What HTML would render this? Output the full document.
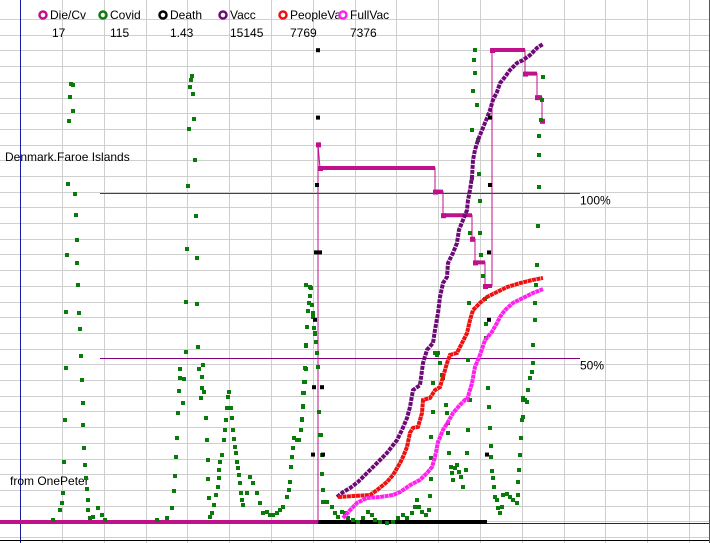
<!DOCTYPE html>
<html><head><meta charset="utf-8"><style>
html,body{margin:0;padding:0;background:#fff;}
#wrap{position:relative;width:710px;height:543px;overflow:hidden;font-family:"Liberation Sans",sans-serif;}
svg text{font-family:"Liberation Sans",sans-serif;font-size:12px;fill:#000;}
</style></head><body>
<div id="wrap">
<svg id="chart" width="710" height="543"></svg>
</div>
<script>
// ---- data ----
const covidDays = [33,40,42,43,44,45,46,46,47,48,49,50,51,53,53,55,56,57,57,58,59,60,61,62,63,63,64,65,66,67,68,68,70,73,78,82,85,
137,147,152,154,155,156,157,158,159,160,160,163,164,166,166,167,168,169,170,171,172,173,174,175,176,177,177,178,179,183,182,182,184,181,186,187,188,188,189,190,
192,194,196,198,199,199,200,202,204,205,206,207,208,209,211,212,213,214,215,216,217,218,219,220,221,222,223,227,230,233,237,240,243,247,250,253,257,260,263,267,269,270,271,272,273,274,277,279,281,282,283,284,285,286,286,287,288,289,290,291,292,293,294,295,296,297,298,299,300,
286,290,292,293,287,295,286,285,284,283,283,282,
301,302,302,303,303,307,312,315,318,322,325,328,333,338,343,348,352,355,360,367,373,378,383,387,392,395,397,399,402,406,409,410,411,411,411,413,413,415,417,418,420,422,423,426,427,428,428,429,431,432,433,435,437,439,441,443,446,447,448,450,448,449,450,452,452,453,455,454,455,457,458,459,460,460,461,463,465,466,466,468,469,470,471,471,472,473,474,475,477,478,480,482,483,487,490,493,497,498,498,499,500,501,502,503,503,503,505,507,508,510,512,513,513,515,515,516,517,518,519,519,519,521,522,523];
const covidVals = [2,12,19,29,60,102,154,210,267,338,401,425,438,437,411,328,307,282,259,237,209,193,166,142,119,97,74,57,44,33,22,12,4,5,14,7,2,
2,4,14,31,46,65,84,109,131,144,153,119,143,170,220,273,336,393,435,442,446,428,403,362,306,264,218,175,153,157,145,134,130,124,104,82,62,43,24,5,
9,17,27,35,44,52,60,67,82,92,102,114,125,130,114,104,92,83,75,69,60,54,47,39,29,22,17,29,45,39,29,19,9,10,7,7,9,12,15,25,32,40,55,65,74,84,82,82,92,102,115,129,140,153,176,195,211,219,226,234,217,209,194,188,180,169,155,110,87,
237,235,217,205,195,189,177,154,140,129,116,103,
87,67,48,32,20,20,15,9,5,10,9,4,2,0,4,10,7,2,0,-1,0,4,7,4,9,15,22,15,10,7,12,26,43,64,85,110,139,169,167,169,159,147,144,117,109,99,89,69,55,49,42,54,57,50,45,35,52,69,92,122,162,219,289,344,392,431,449,462,472,417,382,348,321,289,267,246,223,198,184,134,115,94,76,65,51,44,35,25,22,14,9,15,27,28,25,22,19,27,40,52,67,84,102,122,105,124,122,120,132,144,150,159,177,202,219,237,257,296,335,367,386,402,422,445];

const vaccDays = [317,323,330,338,347,357,367,377,382,387,390,393,400,403,407,413,415,418,420,423,427,428,433,437,439,443,447,448,450,452,453,455,458,462,467,470,473,477,480,485,490,497,503,510,517,523];
const vaccVals = [7.6,9.1,10.3,12.2,14.9,17.9,21.0,24.9,28.0,31.6,35.0,40.1,41.6,48.3,52.3,54.4,58.4,63.5,68.4,72.6,74.5,78.7,81.8,84.8,88.8,91.8,94.8,97.9,100.9,104.9,110.0,113.1,116.1,119.1,122.8,125.2,128.3,130.7,133.4,135.3,137.4,139.5,140.4,141.9,144.1,145.3];

const peopleDays = [318,350,357,367,373,380,383,387,390,393,398,402,403,410,415,420,423,427,430,437,442,447,450,453,460,467,477,487,500,513,523];
const peopleVals = [7.6,8.2,9.7,12.2,14.3,17.9,19.8,22.8,27.1,28.6,28.9,33.1,37.1,37.7,40.1,41.0,44.1,48.3,50.8,51.4,54.4,57.4,61.4,64.4,66.6,68.4,69.9,71.4,72.6,73.6,74.2];

const fullDays = [323,330,337,347,360,373,380,390,400,407,412,415,418,423,428,433,440,445,447,452,455,460,465,472,477,480,485,493,503,513,523];
const fullVals = [1.2,3.6,5.8,7.3,7.6,8.2,9.1,11.2,12.8,14.9,16.7,19.8,24.3,28.0,30.4,33.1,35.6,37.1,37.1,42.2,47.1,50.8,55.3,57.8,60.5,62.3,64.4,66.6,68.1,69.6,70.8];

const dieDays = [0,298,298,300,415,415,423,423,452,452,455,455,465,465,472,472,505,505,517,517,522,522];
const dieVals = [0,0,16,15,15,14,14,13,13,12,12,11,11,10,10,20,20,19,19,18,18,17];
const dieMarkDays = [298,300,415,423,452,455,465,472,505,517,522];
const dieMarkVals = [16,15,14,13,12,11,10,20,19,18,17];

const deathDays = [293,303,294,302,295,296,300,297,298,298,467,469,469,470,470];
const deathVals = [1,1,2,2,3,4,4,5,6,7,1,4,3,5,6];

const legendNames = ["Die/Cv","Covid","Death","Vacc","PeopleVa","FullVac"];
const legendValues = ["17","115","1.43","15145","7769","7376"];
const legendColors = ["#c0108c","#0a7a0a","#000000","#6e0a78","#ee1111","#ff22ee"];

// ---- axes ----
const X0 = 20, BASE = 522;
function xs(d){ return X0 + d; }
function yCovid(v){ return BASE - v; }
function yPct(p){ return BASE - p * 3.29; }
function yDie(v){ return BASE - v * 23.6; }
function yDeath(v){ return BASE - v * 67.4; }

const NS = "http://www.w3.org/2000/svg";
const svg = document.getElementById('chart');
function mk(tag, attrs, parent){
  const e = document.createElementNS(NS, tag);
  for (const k in attrs) e.setAttribute(k, attrs[k]);
  (parent || svg).appendChild(e);
  return e;
}

// grid
const grid = mk('g', {});


for (let x = 62; x < 710; x += 41.8) { const gx = Math.round(x)+0.5; mk('line', {x1:gx, y1:0, x2:gx, y2:543, stroke:'#cfcfcf', 'stroke-width':1}, grid); }
for (let y = 19; y < 543; y += 15.7) { const gy = Math.round(y)+0.5; mk('line', {x1:0, y1:gy, x2:710, y2:gy, stroke:'#cfcfcf', 'stroke-width':1}, grid); }

// axis lines
const yAxis = mk('line', {x1:20.5, y1:0, x2:20.5, y2:543, stroke:'#1a1aa0', 'stroke-width':1});


const xAxis = mk('line', {x1:0, y1:BASE+1.5, x2:710, y2:BASE+1.5, stroke:'#1a1aa0', 'stroke-width':1});


const frameB = mk('line', {x1:0, y1:540.5, x2:710, y2:540.5, stroke:'#000', 'stroke-width':1});


const frameR = mk('line', {x1:709.5, y1:0, x2:709.5, y2:543, stroke:'#555', 'stroke-width':1});



// reference lines
const y100 = Math.round(yPct(100))+0.5, y50 = Math.round(yPct(50))+0.5;
const ref100 = mk('line', {x1:100, y1:y100, x2:580, y2:y100, stroke:'#e00000', 'stroke-width':1});


const ref50 = mk('line', {x1:100, y1:y50, x2:580, y2:y50, stroke:'#800080', 'stroke-width':1});


const t100 = mk('text', {x:580, y:y100+11});
t100.textContent = '100%';


const t50 = mk('text', {x:580, y:y50+11});
t50.textContent = '50%';



const tTitle = mk('text', {x:5, y:161});
tTitle.textContent = 'Denmark.Faroe Islands';


const tSrc = mk('text', {x:10, y:485});
tSrc.textContent = 'from OnePeter';



// baselines
const b1 = mk('line', {x1:0, y1:BASE, x2:xs(298), y2:BASE, stroke:'#c0108c', 'stroke-width':4});


const b2 = mk('line', {x1:xs(298), y1:BASE, x2:xs(467), y2:BASE, stroke:'#000', 'stroke-width':4});



// die/cv step line
let pts = dieDays.map((d,i)=>xs(d)+','+yDie(dieVals[i]).toFixed(1)).join(' ');
const dieLine = mk('polyline', {points:pts, fill:'none', stroke:'#c0108c', 'stroke-width':1});


for (let i = 0; i + 1 < dieMarkDays.length; i++){
  const yy = yDie(dieMarkVals[i]);
  const seg = mk('line', {x1:xs(dieMarkDays[i]), y1:yy, x2:xs(dieMarkDays[i+1]), y2:yy, stroke:'#c0108c', 'stroke-width':4});
  
  
}
dieMarkDays.forEach((d,i)=>{
  const r = mk('rect', {x:xs(d)-2, y:yDie(dieMarkVals[i])-2, width:5, height:5, fill:'#c0108c'});
  
  
});

// covid scatter
const cg = mk('g', {});


covidDays.forEach((d,i)=>{
  const r = mk('rect', {x:xs(d)-2, y:yCovid(covidVals[i])-2, width:4, height:4, fill:'#0a7a0a'}, cg);
  
  
});

// lines for vacc series
function series(days, vals, color, name, dash){
  const p = days.map((d,i)=>xs(d)+','+yPct(vals[i]).toFixed(1)).join(' ');
  const l = mk('polyline', {points:p, fill:'none', stroke:color, 'stroke-width':4, 'stroke-dasharray':dash});
  
  
}
series(vaccDays, vaccVals, '#6e0a78', 'vacc-series', '4 1');
series(peopleDays, peopleVals, '#ee1111', 'people-vaccinated-series', '4 0.5');
series(fullDays, fullVals, '#ff22ee', 'fully-vaccinated-series', '4 0.5');

// deaths
deathDays.forEach((d,i)=>{
  const r = mk('rect', {x:xs(d)-2, y:yDeath(deathVals[i])-2, width:4, height:4, fill:'#000'});
  
  
});

// legend
const lx = [43,103,163,223,283,343];
const lg = mk('g', {});


legendNames.forEach((n,i)=>{
  const c = mk('circle', {cx:lx[i], cy:15, r:3.5, fill:'none', stroke:legendColors[i], 'stroke-width':2.5}, lg);
  
  
  const t = mk('text', {x:lx[i]+7, y:19}, lg);
  t.textContent = n;
  
  
  const v = mk('text', {x:lx[i]+7 + (i===0?2:0), y:37}, lg);
  v.textContent = legendValues[i];
  
  
});
</script>
</body></html>
